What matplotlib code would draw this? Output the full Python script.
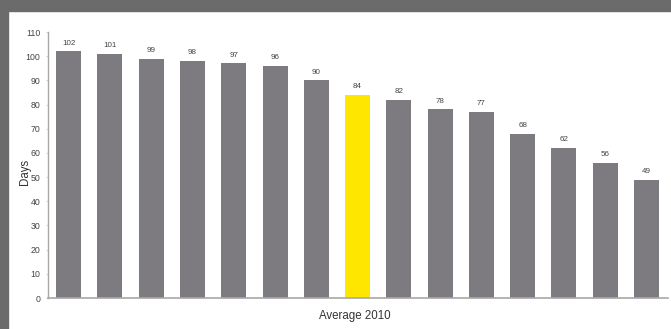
import matplotlib
matplotlib.use("Agg")
import matplotlib.pyplot as plt
from matplotlib.patches import Rectangle

plt.rcParams['font.family'] = ['Liberation Sans', 'DejaVu Sans']

# Average days per category, 2010
valores = [102, 101, 99, 98, 97, 96, 90, 84, 82, 78, 77, 68, 62, 56, 49]
destacado = 7  # bar shown in yellow
ticks_y = [0, 10, 20, 30, 40, 50, 60, 70, 80, 90, 100, 110]

gris = '#7d7b80'
amarillo = '#ffe600'
colores = [amarillo if i == destacado else gris for i in range(len(valores))]

W, H = 671, 329
fig = plt.figure(figsize=(W / 100, H / 100), dpi=100)
fig.patch.set_facecolor('white')

# dark frame on top and left edges
fig.patches.append(Rectangle((0, 1 - 11 / H), 1, 11 / H, transform=fig.transFigure,
                             color='#6b6b6b', zorder=0))
fig.patches.append(Rectangle((0, 0), 8 / W, 1, transform=fig.transFigure,
                             color='#6b6b6b', zorder=0))

ax = fig.add_axes([48 / W, 1 - 298 / H, (668 - 48) / W, (298 - 32) / H])
x = range(len(valores))
barras = ax.bar(x, valores, width=0.605, color=colores, zorder=2)

for xi, v in zip(x, valores):
    ax.text(xi, v + 2.0, str(v), ha='center', va='bottom', fontsize=5.8, color='#444444')

ax.set_xlim(-0.5, len(valores) - 0.48)
ax.set_ylim(0, 110)
ax.set_yticks(ticks_y)
ax.set_xticks([])
ax.tick_params(axis='y', labelsize=6.3, colors='#c0c0c0', labelcolor='#444444',
               length=1.5, width=0.5, pad=4)

for s in ['top', 'right']:
    ax.spines[s].set_visible(False)
ax.spines['left'].set_color('#a8a8a8')
ax.spines['bottom'].set_color('#a8a8a8')
ax.spines['left'].set_linewidth(1)
ax.spines['bottom'].set_linewidth(1.2)

fig.text(25 / W, 1 - 172 / H, 'Days', rotation=90, ha='center', va='center',
         fontsize=8.3, color='#333333')
fig.text(355 / W, 1 - 316 / H, 'Average 2010', ha='center', va='center',
         fontsize=8.3, color='#333333')

fig.savefig('out.png', dpi=100)
